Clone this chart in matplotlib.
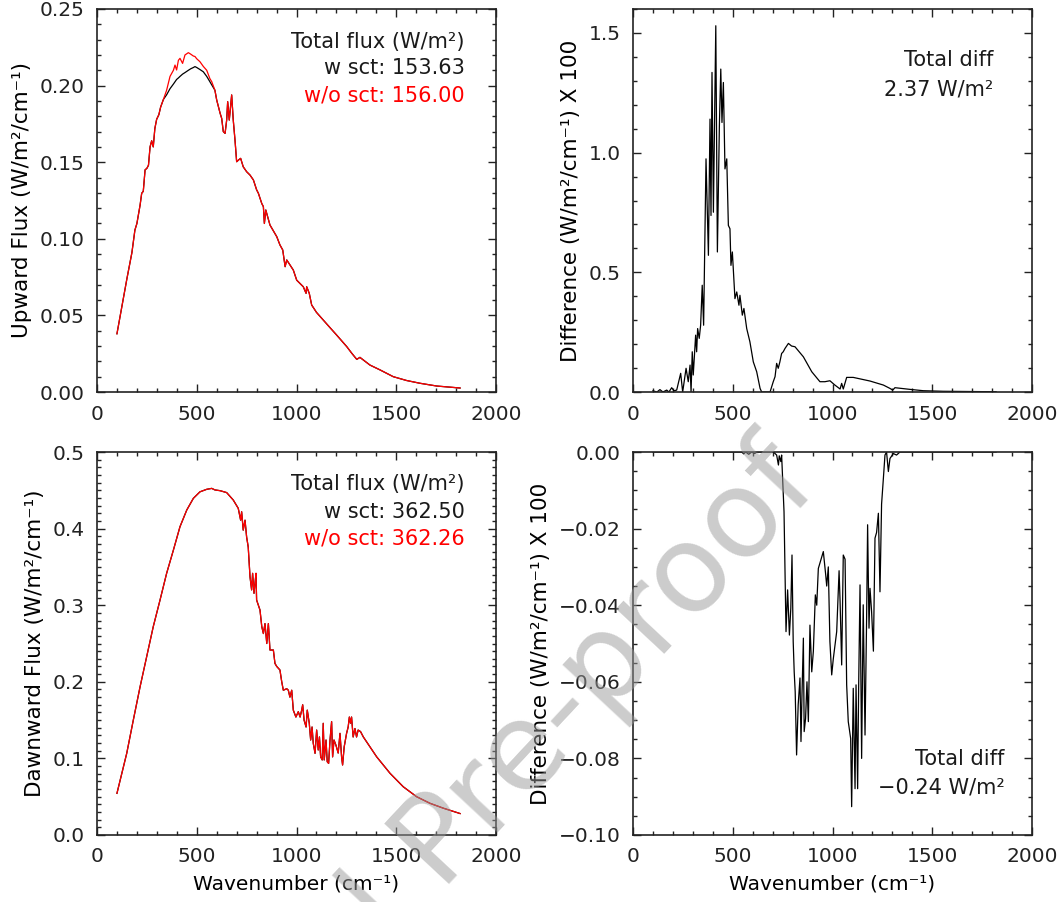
import matplotlib
matplotlib.use("Agg")
import matplotlib.pyplot as plt
from matplotlib.ticker import MultipleLocator, FuncFormatter


# upward flux (top left), W/m2/cm-1
wn_up = [100, 125, 150, 175, 190, 200, 216, 224, 232, 241, 250, 258, 266, 274, 282, 290,
         299, 310, 319, 333, 349, 366, 383, 391, 399, 408, 416, 429, 441, 458, 470, 483,
         491, 500, 516, 533, 550, 566, 575, 591, 600, 617, 625, 633, 642, 650, 655, 663,
         675, 683, 692, 700, 710, 720, 733, 750, 767, 784, 800, 809, 826, 834, 839, 846,
         867, 901, 917, 931, 943, 951, 967, 984, 1001, 1034, 1048, 1051, 1064, 1076, 1100,
         1134, 1168, 1201, 1252, 1277, 1302, 1318, 1368, 1419, 1485, 1552, 1619, 1703, 1820]
up_nosct = [0.038, 0.056, 0.074, 0.091, 0.1057, 0.110, 0.122, 0.1297, 0.131, 0.145, 0.146,
            0.148, 0.160, 0.164, 0.160, 0.172, 0.178, 0.181, 0.186, 0.191, 0.197, 0.206,
            0.210, 0.2134, 0.2102, 0.2165, 0.2178, 0.2145, 0.220, 0.2215, 0.2205, 0.2193,
            0.219, 0.2175, 0.2156, 0.2125, 0.210, 0.2045, 0.2026, 0.197, 0.1906, 0.182,
            0.1786, 0.170, 0.1688, 0.1775, 0.1895, 0.1775, 0.1939, 0.1775, 0.164, 0.1503,
            0.1515, 0.1525, 0.147, 0.1438, 0.1416, 0.1384, 0.132, 0.1297, 0.123, 0.121,
            0.110, 0.1188, 0.109, 0.1014, 0.096, 0.0927, 0.0818, 0.0862, 0.083, 0.0796,
            0.073, 0.0687, 0.0644, 0.0687, 0.0644, 0.0568, 0.052, 0.047, 0.042, 0.0372,
            0.0296, 0.0253, 0.0213, 0.0226, 0.0176, 0.0144, 0.010, 0.0075, 0.0057, 0.0039,
            0.0026]
up_sct = [0.038, 0.056, 0.074, 0.091, 0.1057, 0.110, 0.122, 0.1297, 0.131, 0.145, 0.146,
          0.148, 0.160, 0.164, 0.160, 0.172, 0.178, 0.181, 0.186, 0.191, 0.194, 0.198,
          0.201, 0.2025, 0.204, 0.205, 0.206, 0.2075, 0.2085, 0.2100, 0.211, 0.2118,
          0.2124, 0.2118, 0.2105, 0.209, 0.206, 0.2025, 0.2005, 0.197, 0.1906, 0.182,
          0.1786, 0.170, 0.1688, 0.1775, 0.1895, 0.1775, 0.1939, 0.1775, 0.164, 0.1503,
          0.1515, 0.1525, 0.147, 0.1438, 0.1416, 0.1384, 0.132, 0.1297, 0.123, 0.121,
          0.110, 0.1188, 0.109, 0.1014, 0.096, 0.0927, 0.0818, 0.0862, 0.083, 0.0796,
          0.073, 0.0687, 0.0644, 0.0687, 0.0644, 0.0568, 0.052, 0.047, 0.042, 0.0372,
          0.0296, 0.0253, 0.0213, 0.0226, 0.0176, 0.0144, 0.010, 0.0075, 0.0057, 0.0039,
          0.0026]

# upward difference x 100 (top right)
wn_dup = [100, 120, 135, 150, 169, 180, 194, 205, 219, 239, 249, 266, 277, 286, 291, 297,
          302, 314, 319, 324, 332, 339, 347, 354, 366, 378, 386, 391, 396, 403, 415, 423,
          433, 440, 446, 453, 461, 470, 478, 486, 491, 498, 511, 520, 531, 536, 548, 556,
          570, 586, 603, 620, 637, 645, 687, 703, 712, 720, 728, 736, 745, 753, 762, 779,
          795, 812, 854, 896, 937, 962, 987, 1012, 1038, 1046, 1054, 1071, 1104, 1188, 1255,
          1288, 1302, 1313, 1388, 1455, 1555, 1690, 1820]
dup = [0.005, 0.0, 0.01, 0.0, 0.008, 0.0, 0.018, 0.005, 0.008, 0.078, 0.0, 0.099, 0.043,
       0.1125, 0.0, 0.168, 0.071, 0.2375, 0.168, 0.265, 0.224, 0.279, 0.446, 0.279, 0.974,
       0.571, 1.140, 0.7375, 1.335, 0.751, 1.53, 0.585, 1.1125, 1.349, 1.126, 1.293, 0.932,
       0.974, 0.696, 0.682, 0.529, 0.585, 0.390, 0.418, 0.3625, 0.404, 0.321, 0.349, 0.265,
       0.2096, 0.126, 0.0846, 0.015, 0.0, 0.0, 0.043, 0.064, 0.1196, 0.099, 0.125, 0.161,
       0.168, 0.182, 0.203, 0.192, 0.189, 0.147, 0.0846, 0.043, 0.043, 0.047, 0.029, 0.0125,
       0.036, 0.0125, 0.061, 0.061, 0.0458, 0.029, 0.015, 0.008, 0.018, 0.011, 0.0054,
       0.003, 0.002, 0.001]

# downward flux (bottom left); w sct and w/o sct overlap at this scale
wn_dn = [100, 149, 182, 216, 249, 282, 316, 349, 383, 416, 450, 483, 516, 550, 575, 591,
         617, 650, 683, 708, 720, 725, 733, 742, 750, 758, 767, 775, 780, 787, 792, 797,
         800, 817, 826, 834, 842, 851, 859, 867, 884, 892, 901, 917, 926, 934, 951, 959,
         967, 976, 984, 997, 1009, 1018, 1026, 1031, 1038, 1048, 1054, 1064, 1071, 1078,
         1084, 1093, 1101, 1109, 1115, 1121, 1129, 1134, 1139, 1148, 1154, 1161, 1168,
         1176, 1181, 1188, 1198, 1209, 1218, 1226, 1231, 1239, 1251, 1259, 1265, 1271,
         1276, 1284, 1293, 1301, 1309, 1321, 1335, 1351, 1402, 1469, 1535, 1602, 1669,
         1736, 1820]
dn_sct = [0.0544, 0.1066, 0.150, 0.1936, 0.2328, 0.272, 0.3068, 0.3416, 0.372, 0.4025,
          0.4243, 0.4395, 0.448, 0.4513, 0.4525, 0.4505, 0.4495, 0.447, 0.4373, 0.4265,
          0.411, 0.422, 0.398, 0.411, 0.389, 0.376, 0.337, 0.320, 0.3416, 0.3155, 0.3286,
          0.3416, 0.3068, 0.2937, 0.272, 0.263, 0.276, 0.250, 0.276, 0.2415, 0.2415, 0.224,
          0.220, 0.2154, 0.200, 0.189, 0.191, 0.189, 0.180, 0.189, 0.163, 0.154, 0.161,
          0.154, 0.163, 0.170, 0.150, 0.141, 0.163, 0.146, 0.124, 0.141, 0.1197, 0.1066,
          0.137, 0.111, 0.128, 0.102, 0.098, 0.1458, 0.098, 0.124, 0.0957, 0.0935, 0.124,
          0.148, 0.102, 0.124, 0.117, 0.107, 0.1327, 0.102, 0.0914, 0.115, 0.1327, 0.141,
          0.154, 0.146, 0.154, 0.128, 0.139, 0.128, 0.137, 0.135, 0.128, 0.1218, 0.102,
          0.0805, 0.063, 0.050, 0.0414, 0.035, 0.028]

# downward difference x 100 (bottom right)
wn_ddn = [100, 545, 555, 565, 580, 595, 610, 620, 704, 720, 729, 733, 741, 745, 757, 767,
          775, 784, 791, 797, 803, 808, 813, 820, 828, 837, 842, 847, 854, 858, 865, 872,
          879, 887, 896, 904, 914, 921, 929, 937, 954, 966, 971, 979, 987, 996, 1004, 1021,
          1033, 1038, 1046, 1054, 1063, 1071, 1079, 1084, 1091, 1096, 1104, 1113, 1118,
          1126, 1131, 1138, 1146, 1154, 1163, 1171, 1176, 1183, 1188, 1196, 1205, 1213,
          1221, 1230, 1238, 1246, 1255, 1263, 1271, 1280, 1288, 1305, 1321, 1338, 1820]
ddn = [0.0, 0.0, -0.0005, 0.0, -0.0006, 0.0, -0.0004, 0.0, 0.0, -0.0008, -0.0034, -0.001,
       -0.0025, -0.0008, -0.0156, -0.0469, -0.036, -0.0478, -0.0408, -0.0269, -0.0495,
       -0.0574, -0.0626, -0.0791, -0.066, -0.059, -0.0756, -0.0635, -0.0486, -0.073,
       -0.0696, -0.060, -0.0704, -0.0452, -0.0574, -0.052, -0.0373, -0.040, -0.0304, -0.029,
       -0.026, -0.0321, -0.035, -0.030, -0.0495, -0.0582, -0.054, -0.0469, -0.031, -0.039,
       -0.0556, -0.0269, -0.028, -0.0608, -0.0704, -0.0722, -0.0748, -0.0926, -0.0617,
       -0.0879, -0.0608, -0.0879, -0.0617, -0.0347, -0.080, -0.0399, -0.0739, -0.0434,
       -0.019, -0.046, -0.0356, -0.0417, -0.052, -0.0225, -0.021, -0.016, -0.0365, -0.0136,
       -0.0069, -0.0008, 0.0, -0.0051, -0.0017, -0.0004, -0.0008, 0.0, 0.0]

up_totals = ["153.63", "156.00"]
dn_totals = ["362.50", "362.26"]
diff_totals = ["2.37", "\u22120.24"]

FLUX_UNIT = "(W/m\u00b2/cm\u207b\u00b9)"
YLABEL_SIZE = 15.5
NOTE_SIZE = 15

plt.rcParams["font.family"] = "DejaVu Sans"
plt.rcParams["font.size"] = 14.5
plt.rcParams["text.color"] = "#1a1a1a"


def fmt(decimals):
    def f(v, pos):
        if abs(v) < 1e-12:
            v = 0.0
        return f"{v:.{decimals}f}".replace("-", "\u2212")
    return FuncFormatter(f)


def style_axis(ax, ylim, ymajor, yminor, decimals):
    ax.set_xlim(0, 2000)
    ax.set_ylim(*ylim)
    ax.xaxis.set_major_locator(MultipleLocator(500))
    ax.xaxis.set_minor_locator(MultipleLocator(100))
    ax.yaxis.set_major_locator(MultipleLocator(ymajor))
    ax.yaxis.set_minor_locator(MultipleLocator(yminor))
    ax.yaxis.set_major_formatter(fmt(decimals))
    ax.tick_params(which="both", direction="in", top=True, right=True,
                   width=1.0, colors="#222222", labelsize=14.5)
    ax.tick_params(which="major", length=6, pad=9)
    ax.tick_params(which="minor", length=3.2)
    for s in ax.spines.values():
        s.set_linewidth(1.2)
        s.set_color("#222222")


def notes(ax, x, ys, lines, colors):
    for y, s, c in zip(ys, lines, colors):
        ax.text(x, y, s, transform=ax.transAxes, ha="right", va="center",
                color=c, fontsize=NOTE_SIZE)


fig = plt.figure(figsize=(10.61, 9.02), dpi=100)
W, H = 1061, 902


def add_axes(x0, y0, x1, y1):
    return fig.add_axes([x0 / W, 1 - y1 / H, (x1 - x0) / W, (y1 - y0) / H])


ax_tl = add_axes(97, 9, 496, 392)
ax_tr = add_axes(633, 9, 1032, 392)
ax_bl = add_axes(97, 452, 496, 835)
ax_br = add_axes(633, 452, 1032, 835)

# top left: upward flux
ax_tl.plot(wn_up, up_sct, color="black", linewidth=0.9)
ax_tl.plot(wn_up, up_nosct, color="red", linewidth=0.9)
style_axis(ax_tl, (0, 0.25), 0.05, 0.01, 2)
ax_tl.set_ylabel("Upward Flux " + FLUX_UNIT, fontsize=YLABEL_SIZE)
ax_tl.yaxis.set_label_coords(-0.163, 0.5)
notes(ax_tl, 0.922, [0.915, 0.845, 0.775],
      ["Total flux (W/m\u00b2)", f"w sct: {up_totals[0]}", f"w/o sct: {up_totals[1]}"],
      ["#1a1a1a", "#1a1a1a", "red"])

# top right: upward difference
ax_tr.plot(wn_dup, dup, color="black", linewidth=0.9)
style_axis(ax_tr, (0, 1.6), 0.5, 0.1, 1)
ax_tr.set_ylabel("Difference " + FLUX_UNIT + " X 100", fontsize=YLABEL_SIZE)
ax_tr.yaxis.set_label_coords(-0.13, 0.5)
notes(ax_tr, 0.904, [0.866, 0.791], ["Total diff", f"{diff_totals[0]} W/m\u00b2"],
      ["#1a1a1a", "#1a1a1a"])

# bottom left: downward flux
ax_bl.plot(wn_dn, dn_sct, color="black", linewidth=0.9)
ax_bl.plot(wn_dn, dn_sct, color="red", linewidth=0.9)
style_axis(ax_bl, (0, 0.5), 0.1, 0.01, 1)
ax_bl.set_ylabel("Dawnward Flux " + FLUX_UNIT, fontsize=YLABEL_SIZE)
ax_bl.yaxis.set_label_coords(-0.13, 0.5)
ax_bl.set_xlabel("Wavenumber (cm\u207b\u00b9)")
ax_bl.xaxis.set_label_coords(0.5, -0.104)
notes(ax_bl, 0.922, [0.916, 0.844, 0.773],
      ["Total flux (W/m\u00b2)", f"w sct: {dn_totals[0]}", f"w/o sct: {dn_totals[1]}"],
      ["#1a1a1a", "#1a1a1a", "red"])

# bottom right: downward difference
ax_br.plot(wn_ddn, ddn, color="black", linewidth=0.9)
style_axis(ax_br, (-0.10, 0.0), 0.02, 0.005, 2)
ax_br.set_ylabel("Difference " + FLUX_UNIT + " X 100", fontsize=YLABEL_SIZE)
ax_br.yaxis.set_label_coords(-0.2055, 0.5)
ax_br.set_xlabel("Wavenumber (cm\u207b\u00b9)")
ax_br.xaxis.set_label_coords(0.5, -0.104)
notes(ax_br, 0.931, [0.199, 0.125], ["Total diff", f"{diff_totals[1]} W/m\u00b2"],
      ["#1a1a1a", "#1a1a1a"])

# journal watermark, runs off the bottom edge like the original
fig.text(452 / W, 1 - 840 / H, "Journal Pre-proof", fontsize=88, color="#999999", alpha=0.5,
         rotation=47, rotation_mode="anchor", ha="center", va="center")

fig.savefig("out.png", dpi=100)
plt.close(fig)
